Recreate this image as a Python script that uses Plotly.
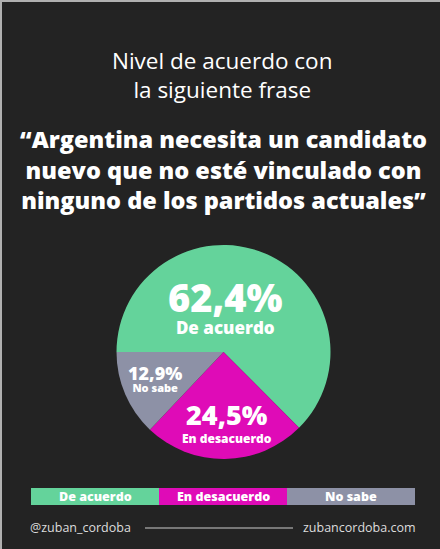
import plotly.graph_objects as go

categories = ["De acuerdo", "En desacuerdo", "No sabe"]
values = [62.4, 24.5, 12.9]
colors = ["#64D39B", "#DF0BB7", "#8D91A6"]

title_lines = ["Nivel de acuerdo con", "la siguiente frase"]
quote_lines = ["“Argentina necesita un candidato",
               "nuevo que no esté vinculado con",
               "ninguno de los partidos actuales”"]
footer_left = "@zuban_cordoba"
footer_right = "zubancordoba.com"

W, H = 440, 549
BG = "#232323"

def px(x):
    return x / W

def py(y):
    return 1 - y / H

fig = go.Figure()

cx, cy, r = 223.5, 352, 107
fig.add_trace(go.Pie(
    labels=categories, values=values, sort=False,
    direction="clockwise", rotation=270,
    marker=dict(colors=colors, line=dict(width=0)),
    textinfo="none", hoverinfo="label+percent", showlegend=False,
    domain=dict(x=[px(cx - r), px(cx + r)], y=[py(cy + r), py(cy - r)]),
))

FONT = "Open Sans"
ann = []
def txt(x, y, s, size, color="white", weight="normal", family=FONT, anchor="center"):
    ann.append(dict(x=px(x), y=py(y), xref="paper", yref="paper", text=s,
                    showarrow=False, xanchor=anchor, yanchor="middle",
                    font=dict(size=size, color=color, family=family, weight=weight)))

def fmt(v):
    return f"{v:.1f}".replace(".", ",") + "%"

# titles
txt(222, 75, "<br>".join(title_lines), 22.5)
txt(223, 170, "<br>".join(quote_lines), 23.5, weight=800)

# slice labels: (x, y, base size -> line spacing, pct size, label size)
label_pos = [(225, 305, 17, 38, 17), (227, 421, 14, 27, 12), (155, 378, 9.5, 18, 11)]
for (x, y, base, s1, s2), cat, v in zip(label_pos, categories, values):
    s = (f"<span style='font-size:{s1}px'>{fmt(v)}</span><br>"
         f"<span style='font-size:{s2}px'>{cat}</span>")
    txt(x, y, s, base, weight=800)

# legend bar
shapes = []
lx0, lx1, ly0, ly1 = 31, 415, 488, 505
wseg = (lx1 - lx0) / len(categories)
for i, (cat, col) in enumerate(zip(categories, colors)):
    x0 = lx0 + i * wseg
    shapes.append(dict(type="rect", xref="paper", yref="paper",
                       x0=px(x0), x1=px(x0 + wseg), y0=py(ly1), y1=py(ly0),
                       fillcolor=col, line=dict(width=0), layer="below"))
    txt(x0 + wseg / 2, (ly0 + ly1) / 2, cat, 12.5, weight=800)

# footer
txt(28, 527, footer_left, 12.5, color="#dddddd", anchor="left")
txt(418, 527, footer_right, 12.5, color="#dddddd", anchor="right")
shapes.append(dict(type="line", xref="paper", yref="paper",
                   x0=px(145), x1=px(293), y0=py(528), y1=py(528),
                   line=dict(color="#cccccc", width=1)))
# frame edges
shapes.append(dict(type="line", xref="paper", yref="paper", x0=0, x1=1, y0=py(1), y1=py(1),
                   line=dict(color="#b0b0b0", width=2)))
shapes.append(dict(type="line", xref="paper", yref="paper", x0=px(1), x1=px(1), y0=0, y1=1,
                   line=dict(color="#b0b0b0", width=2)))

fig.update_layout(
    width=W, height=H, margin=dict(l=0, r=0, t=0, b=0),
    paper_bgcolor=BG, plot_bgcolor=BG,
    annotations=ann, shapes=shapes,
)

fig.write_html("out.html", config={"displayModeBar": False},
               post_script="document.body.style.margin='0';")
